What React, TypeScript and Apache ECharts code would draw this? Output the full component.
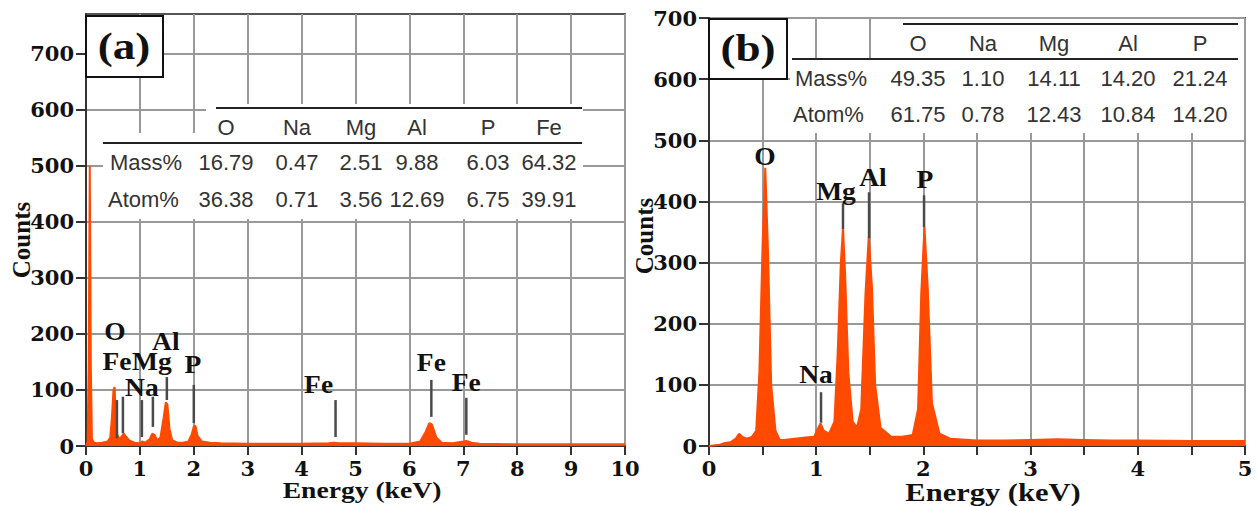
import React, { useEffect, useRef } from "react";
import * as echarts from "echarts";

// ---------- data ----------
// Panel (a): EDS spectrum, energy (keV) vs counts
const spectrumA: [number, number][] = [
  [0, 0], [0.03, 8], [0.05, 145], [0.07, 500], [0.09, 140], [0.11, 12], [0.15, 6], [0.2, 5],
  [0.3, 6], [0.4, 8], [0.45, 15], [0.48, 50], [0.51, 100], [0.53, 105], [0.55, 60], [0.58, 20],
  [0.62, 12], [0.67, 18], [0.7, 22], [0.74, 17], [0.8, 10], [0.9, 6], [1.0, 5], [1.04, 8],
  [1.1, 6], [1.18, 12], [1.23, 22], [1.27, 20], [1.32, 10], [1.38, 15], [1.44, 50], [1.48, 78],
  [1.51, 74], [1.55, 30], [1.6, 10], [1.7, 6], [1.8, 6], [1.9, 8], [1.96, 20], [2.0, 35],
  [2.03, 36], [2.07, 18], [2.15, 8], [2.3, 6], [2.5, 5], [3.0, 4], [3.5, 4], [4.0, 4],
  [4.5, 5], [4.6, 6], [4.7, 5], [5.0, 5], [5.5, 4], [6.0, 4], [6.2, 8], [6.3, 25],
  [6.37, 41], [6.42, 38], [6.5, 15], [6.6, 6], [6.8, 5], [7.0, 8], [7.06, 9], [7.15, 6],
  [7.3, 4], [8.0, 3], [9.0, 3], [10.0, 3],
];

// Panel (b): EDS spectrum, energy (keV) vs counts
const spectrumB: [number, number][] = [
  [0, 0], [0.1, 2], [0.15, 5], [0.2, 6], [0.25, 12], [0.28, 20], [0.31, 15], [0.35, 12],
  [0.4, 15], [0.44, 25], [0.47, 120], [0.5, 330], [0.525, 455], [0.55, 320], [0.58, 100],
  [0.62, 25], [0.66, 10], [0.7, 10], [0.8, 12], [0.9, 14], [0.98, 15], [1.02, 30], [1.04, 37],
  [1.07, 25], [1.12, 20], [1.17, 40], [1.2, 150], [1.23, 300], [1.25, 358], [1.27, 280],
  [1.3, 120], [1.34, 40], [1.38, 30], [1.42, 60], [1.46, 250], [1.49, 342], [1.52, 260],
  [1.55, 100], [1.6, 30], [1.7, 15], [1.8, 15], [1.9, 18], [1.95, 60], [1.98, 250],
  [2.01, 358], [2.04, 260], [2.08, 70], [2.15, 20], [2.25, 12], [2.5, 9], [2.75, 9],
  [3.0, 10], [3.25, 11], [3.5, 10], [3.75, 9], [4.0, 9], [4.5, 8], [5.0, 8],
];

// Tables
const elementsA = ["O", "Na", "Mg", "Al", "P", "Fe"];
const massA = ["16.79", "0.47", "2.51", "9.88", "6.03", "64.32"];
const atomA = ["36.38", "0.71", "3.56", "12.69", "6.75", "39.91"];
const elementsB = ["O", "Na", "Mg", "Al", "P"];
const massB = ["49.35", "1.10", "14.11", "14.20", "21.24"];
const atomB = ["61.75", "0.78", "12.43", "10.84", "14.20"];
const rowLabels = ["Mass%", "Atom%"];

// Axis ticks
const yTicks = [0, 100, 200, 300, 400, 500, 600, 700];

// Peak annotations (element, energy, label counts)
const peakLabelsA = [
  { t: "O", e: 0.537, c: 204 }, { t: "Fe", e: 0.574, c: 150 }, { t: "Mg", e: 1.222, c: 150 },
  { t: "Al", e: 1.481, c: 186 }, { t: "Na", e: 1.037, c: 104 }, { t: "P", e: 1.981, c: 145 },
  { t: "Fe", e: 4.315, c: 109 }, { t: "Fe", e: 6.407, c: 148 }, { t: "Fe", e: 7.056, c: 113 },
];
const peakLinesA = [
  [0.574, 82, 14], [0.685, 88, 23], [1.037, 82, 16], [1.241, 88, 34], [1.5, 123, 82],
  [2.0, 109, 41], [4.63, 82, 16], [6.407, 118, 52], [7.056, 86, 20],
];
const peakLabelsB = [
  { t: "O", e: 0.522, c: 473 }, { t: "Mg", e: 1.185, c: 415 }, { t: "Al", e: 1.53, c: 438 },
  { t: "P", e: 2.015, c: 435 }, { t: "Na", e: 0.998, c: 116 },
];
const peakLinesB = [
  [1.25, 397, 355], [1.493, 415, 340], [2.006, 410, 358], [1.045, 88, 38],
];

const ORANGE = "#ff4a00";
const SERIF = '"Liberation Serif", "Times New Roman", serif';
const TICKFONT = '"DejaVu Serif", serif';
const SANS = '"Liberation Sans", Arial, sans-serif';

function axisCommon() {
  return {
    axisLine: { show: true, onZero: false, lineStyle: { color: "#333", width: 2 } },
    axisTick: { show: true, inside: false, length: 9, lineStyle: { color: "#333", width: 2 } },
    splitLine: { show: true, lineStyle: { color: "#999", width: 2 } },
  };
}

export default function App() {
  const ref = useRef<HTMLDivElement>(null);
  useEffect(() => {
    if (!ref.current) return;
    const chart = echarts.init(ref.current, undefined, { renderer: "svg" });
    const tickLabel = { fontFamily: TICKFONT, fontWeight: "bold", fontSize: 21, color: "#111" };
    const option: any = {
      animation: false,
      backgroundColor: "#fff",
      grid: [
        { left: 86, top: 14, width: 539, height: 432, show: true, borderColor: "#555", borderWidth: 2, backgroundColor: "transparent" },
        { left: 709, top: 18, width: 536, height: 428, show: true, borderColor: "#555", borderWidth: 2, backgroundColor: "transparent" },
      ],
      xAxis: [
        {
          gridIndex: 0, type: "value", min: 0, max: 10, interval: 1, ...axisCommon(),
          axisLabel: { ...tickLabel, margin: 12 },
        },
        {
          gridIndex: 1, type: "value", min: 0, max: 5, interval: 0.5, ...axisCommon(),
          axisLabel: { ...tickLabel, margin: 12, formatter: (v: number) => (Number.isInteger(v) ? String(v) : "") },
        },
      ],
      yAxis: [
        {
          gridIndex: 0, type: "value", min: 0, max: 771, interval: 100, ...axisCommon(),
          axisTick: { show: true, length: 10, customValues: yTicks, lineStyle: { color: "#333", width: 2 } },
          axisLabel: { ...tickLabel, margin: 12, customValues: yTicks },
        },
        {
          gridIndex: 1, type: "value", min: 0, max: 700, interval: 100, ...axisCommon(),
          axisTick: { show: true, length: 10, lineStyle: { color: "#333", width: 2 } },
          axisLabel: { ...tickLabel, margin: 12 },
        },
      ],
      series: [
        {
          type: "line", xAxisIndex: 0, yAxisIndex: 0, data: spectrumA, symbol: "none",
          lineStyle: { color: ORANGE, width: 2 }, areaStyle: { color: ORANGE, opacity: 1 }, z: 3,
        },
        {
          type: "line", xAxisIndex: 1, yAxisIndex: 1, data: spectrumB, symbol: "none",
          lineStyle: { color: ORANGE, width: 2 }, areaStyle: { color: ORANGE, opacity: 1 }, z: 3,
        },
      ],
    };
    chart.setOption(option);

    const px = (gi: number, e: number, c: number) =>
      chart.convertToPixel({ xAxisIndex: gi, yAxisIndex: gi } as any, [e, c]) as number[];

    const g: any[] = [];
    const txt = (text: string, x: number, y: number, font: string, size: number, opts: any = {}) => ({
      type: "text", x, y, z: 200, scaleX: opts.scaleX ?? 1, rotation: opts.rotation ?? 0,
      style: {
        text, fontFamily: font, fontSize: size, fontWeight: opts.weight ?? "bold",
        fill: opts.fill ?? "#111", align: opts.align ?? "center", verticalAlign: "middle",
      },
    });
    const line = (x1: number, y1: number, x2: number, y2: number, color = "#222", w = 2, z = 150) => ({
      type: "line", z, shape: { x1, y1, x2, y2 }, style: { stroke: color, lineWidth: w },
    });
    const rect = (x: number, y: number, w: number, h: number, stroke?: string) => ({
      type: "rect", z: 120, shape: { x, y, width: w, height: h },
      style: { fill: "#fff", stroke: stroke ?? null, lineWidth: stroke ? 2 : 0 },
    });

    const tableText = { weight: "normal", fill: "#333" };

    // ---- Table (a) ----
    g.push(rect(206, 104, 377, 40));
    g.push(rect(103, 133, 480, 86));
    g.push(line(216, 108, 582, 108));
    g.push(line(103, 143, 582, 143));
    const colA = [226, 297, 361, 417, 488, 549];
    elementsA.forEach((t, i) => g.push(txt(t, colA[i], 127, SANS, 22, tableText)));
    g.push(txt(rowLabels[0], 110, 162, SANS, 22, { ...tableText, align: "left" }));
    g.push(txt(rowLabels[1], 108, 199, SANS, 22, { ...tableText, align: "left" }));
    massA.forEach((t, i) => g.push(txt(t, colA[i], 162, SANS, 22, tableText)));
    atomA.forEach((t, i) => g.push(txt(t, colA[i], 199, SANS, 22, tableText)));

    // ---- Table (b) ----
    g.push(rect(885, 19, 359, 41));
    g.push(rect(790, 59, 454, 74));
    g.push(line(903, 24, 1238, 24));
    g.push(line(792, 59, 1238, 59));
    const colB = [918, 983, 1054, 1128, 1200];
    elementsB.forEach((t, i) => g.push(txt(t, colB[i], 43, SANS, 22, tableText)));
    g.push(txt(rowLabels[0], 795, 78, SANS, 22, { ...tableText, align: "left" }));
    g.push(txt(rowLabels[1], 793, 114, SANS, 22, { ...tableText, align: "left" }));
    massB.forEach((t, i) => g.push(txt(t, colB[i], 78, SANS, 22, tableText)));
    atomB.forEach((t, i) => g.push(txt(t, colB[i], 114, SANS, 22, tableText)));

    // ---- panel tags ----
    g.push(rect(86, 16, 77, 61, "#111"));
    g.push(txt("(a)", 124, 46, SERIF, 37, { scaleX: 1.22 }));
    g.push(rect(709, 19, 78, 60, "#111"));
    g.push(txt("(b)", 748, 48, SERIF, 37, { scaleX: 1.22 }));

    // ---- peak annotations ----
    const lblSize = 25;
    const lblScale = 1.1;
    peakLinesA.forEach(([e, c1, c2]) => {
      const a = px(0, e, c1), b = px(0, e, c2);
      g.push(line(a[0], a[1], b[0], b[1], "#4a4a4a", 2.5));
    });
    peakLabelsA.forEach((p) => {
      const a = px(0, p.e, p.c);
      g.push(txt(p.t, a[0], a[1], SERIF, lblSize, { scaleX: lblScale }));
    });
    peakLinesB.forEach(([e, c1, c2]) => {
      const a = px(1, e, c1), b = px(1, e, c2);
      g.push(line(a[0], a[1], b[0], b[1], "#4a4a4a", 2.5));
    });
    peakLabelsB.forEach((p) => {
      const a = px(1, p.e, p.c);
      g.push(txt(p.t, a[0], a[1], SERIF, lblSize, { scaleX: lblScale }));
    });

    // ---- axis titles ----
    g.push(txt("Counts", 21, 240, SERIF, 25, { rotation: Math.PI / 2 }));
    g.push(txt("Counts", 644, 236, SERIF, 25, { rotation: Math.PI / 2 }));
    g.push(txt("Energy (keV)", 362, 490, SERIF, 24, { scaleX: 1.15 }));
    g.push(txt("Energy (keV)", 993, 492, SERIF, 25, { scaleX: 1.22 }));

    chart.setOption({ graphic: { elements: g } });
    return () => chart.dispose();
  }, []);
  return (
    <div
      ref={ref}
      style={{ position: "fixed", left: 0, top: 0, width: 1258, height: 506, background: "#fff" }}
    />
  );
}
